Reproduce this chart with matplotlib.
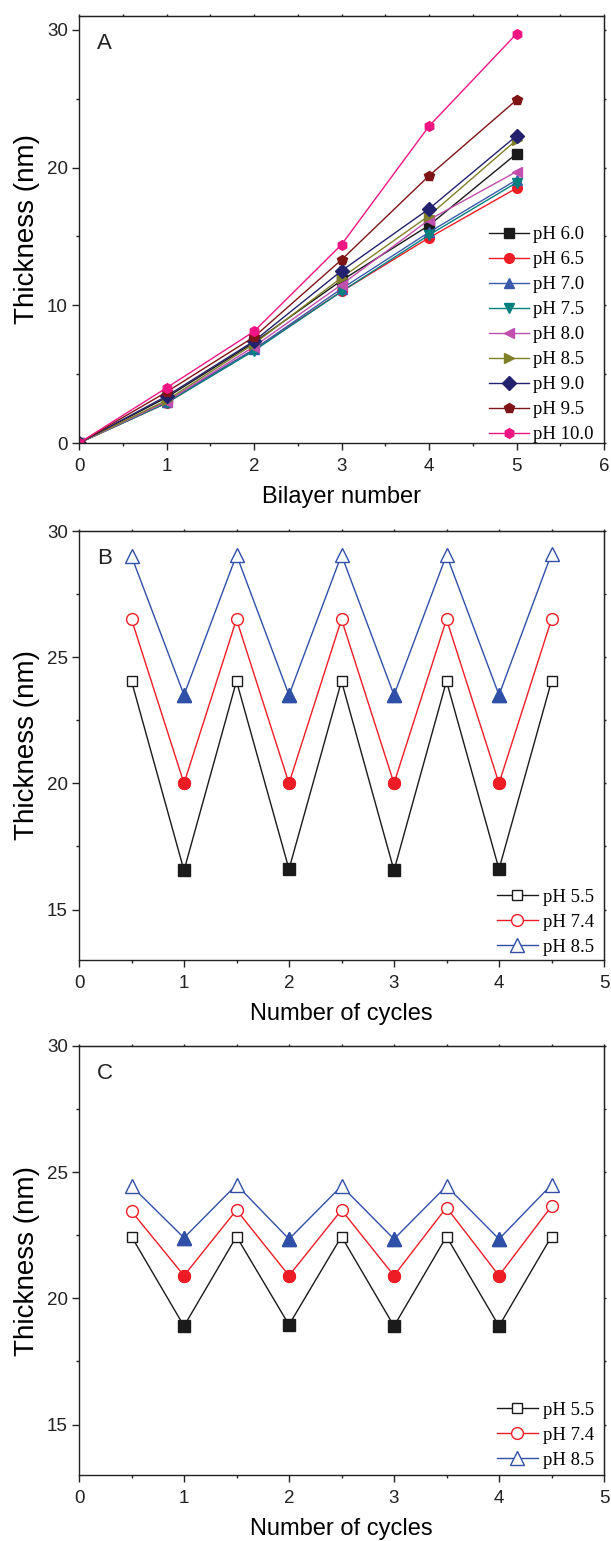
import matplotlib
matplotlib.use("Agg")
import matplotlib.pyplot as plt
from matplotlib.ticker import MultipleLocator

# ---- panel A: thickness vs bilayer number at different pH ----
bilayers = [0, 1, 2, 3, 4, 5]
ph60 = [0, 3.3, 7.3, 11.8, 15.8, 21.0]
ph65 = [0, 2.9, 6.8, 11.0, 14.9, 18.5]
ph70 = [0, 3.0, 6.8, 11.2, 15.3, 19.1]
ph75 = [0, 2.9, 6.7, 11.0, 15.1, 18.9]
ph80 = [0, 3.0, 7.0, 11.5, 16.2, 19.7]
ph85 = [0, 3.1, 7.2, 12.0, 16.5, 22.0]
ph90 = [0, 3.4, 7.4, 12.5, 17.0, 22.3]
ph95 = [0, 3.7, 7.7, 13.3, 19.4, 24.9]
ph100 = [0, 4.0, 8.1, 14.4, 23.0, 29.7]
labels_a = ["pH 6.0", "pH 6.5", "pH 7.0", "pH 7.5", "pH 8.0",
            "pH 8.5", "pH 9.0", "pH 9.5", "pH 10.0"]

# ---- panels B and C: thickness over pH switching cycles ----
cycles = [0.5, 1, 1.5, 2, 2.5, 3, 3.5, 4, 4.5]
labels_bc = ["pH 5.5", "pH 7.4", "pH 8.5"]
b_ph55 = [24.05, 16.55, 24.05, 16.6, 24.05, 16.55, 24.05, 16.6, 24.05]
b_ph74 = [26.5, 20.0, 26.5, 20.0, 26.5, 20.0, 26.5, 20.0, 26.5]
b_ph85 = [29.0, 23.5, 29.05, 23.5, 29.05, 23.5, 29.05, 23.5, 29.1]
c_ph55 = [22.45, 18.9, 22.45, 18.95, 22.45, 18.9, 22.45, 18.9, 22.45]
c_ph74 = [23.45, 20.9, 23.5, 20.9, 23.5, 20.9, 23.6, 20.9, 23.65]
c_ph85 = [24.45, 22.4, 24.5, 22.35, 24.45, 22.35, 24.45, 22.35, 24.5]

colors_a = ["#1a1a1a", "#ee1c25", "#3a5bab", "#007f7f", "#c04fae",
            "#80802a", "#22226e", "#7f1416", "#ef1683"]
markers_a = ["s", "o", "^", "v", "<", ">", "D", "p", "h"]
colors_bc = ["#1a1a1a", "#ee1c25", "#3050a8"]
markers_bc = ["s", "o", "^"]
msize_open = [7.5, 8.5, 10]
msize_fill = [8, 8.5, 9.5]

SANS = "Liberation Sans"
SERIF = "Liberation Serif"
plt.rcParams["font.family"] = SANS

fig = plt.figure(figsize=(6.11, 15.41), dpi=100)
W, H = 611.0, 1541.0


def make_ax(top, bottom):
    return fig.add_axes([79 / W, 1 - bottom / H, (604 - 79) / W, (bottom - top) / H])


def style(ax, xmax, ylo, yhi, ymaj, xlabel, tag):
    ax.set_xlim(0, xmax)
    ax.set_ylim(ylo, yhi)
    ax.xaxis.set_major_locator(MultipleLocator(1))
    ax.xaxis.set_minor_locator(MultipleLocator(0.5))
    ax.yaxis.set_major_locator(MultipleLocator(ymaj))
    ax.yaxis.set_minor_locator(MultipleLocator(ymaj / 2))
    for s in ax.spines.values():
        s.set_linewidth(1.0)
        s.set_color("#222222")
    ax.tick_params(which="major", direction="out", length=5, width=1.0,
                   labelsize=13.5, colors="#222222")
    ax.tick_params(which="minor", direction="out", length=2.5, width=1.0,
                   colors="#222222")
    ax.tick_params(axis="x", which="major", pad=6)
    ax.tick_params(axis="y", which="major", pad=3)
    for lab in ax.get_xticklabels() + ax.get_yticklabels():
        lab.set_fontfamily(SANS)
    # small mirrored ticks on top and right
    sx = ax.secondary_xaxis("top")
    sx.xaxis.set_major_locator(MultipleLocator(1))
    sx.xaxis.set_minor_locator(MultipleLocator(0.5))
    sx.tick_params(which="both", direction="out", length=1.5, width=1.0,
                   labeltop=False, colors="#222222")
    sy = ax.secondary_yaxis("right")
    sy.yaxis.set_major_locator(MultipleLocator(ymaj))
    sy.yaxis.set_minor_locator(MultipleLocator(ymaj / 2))
    sy.tick_params(which="both", direction="out", length=1.5, width=1.0,
                   labelright=False, colors="#222222")
    ax.set_xlabel(xlabel, fontsize=17, family=SANS, labelpad=8)
    ax.set_ylabel("Thickness (nm)", fontsize=20, family=SANS, labelpad=5)
    ax.text(0.034, 0.96, tag, transform=ax.transAxes, fontsize=16,
            family=SANS, va="top", ha="left", color="#222222")


# Panel A
axA = make_ax(16, 443)
series_a = [ph60, ph65, ph70, ph75, ph80, ph85, ph90, ph95, ph100]
for ys, c, m, lab in zip(series_a, colors_a, markers_a, labels_a):
    axA.plot(bilayers, ys, color=c, marker=m, markersize=7, lw=1.0,
             markeredgecolor=c, label=lab)
style(axA, 6, 0, 31, 10, "Bilayer number", "A")
axA.legend(loc="lower right", frameon=False, prop={"family": SERIF, "size": 13.5},
           handlelength=2.1, handletextpad=0.25, labelspacing=0.42,
           borderaxespad=0.0, bbox_to_anchor=(0.995, -0.018))


def cycle_panel(ax, series):
    for ys, c, m, so, sf, lab in zip(series, colors_bc, markers_bc,
                                     msize_open, msize_fill, labels_bc):
        ax.plot(cycles, ys, color=c, marker=m, markersize=so, lw=1.0,
                markerfacecolor="white", markeredgecolor=c, markeredgewidth=1.0,
                label=lab)
        ax.plot(cycles[1::2], ys[1::2], ls="none", marker=m, markersize=sf,
                color=c, markeredgecolor=c)


legend_bc = dict(loc="lower right", frameon=False,
                 prop={"family": SERIF, "size": 13.5},
                 handlelength=2.2, handletextpad=0.25, labelspacing=0.42,
                 borderaxespad=0.0)

# Panel B
axB = make_ax(531, 960)
cycle_panel(axB, [b_ph55, b_ph74, b_ph85])
style(axB, 5, 13, 30, 5, "Number of cycles", "B")
axB.legend(bbox_to_anchor=(0.995, -0.008), **legend_bc)

# Panel C
axC = make_ax(1046, 1475)
cycle_panel(axC, [c_ph55, c_ph74, c_ph85])
style(axC, 5, 13, 30, 5, "Number of cycles", "C")
axC.legend(bbox_to_anchor=(0.995, -0.003), **legend_bc)

fig.savefig("out.png", dpi=100)
